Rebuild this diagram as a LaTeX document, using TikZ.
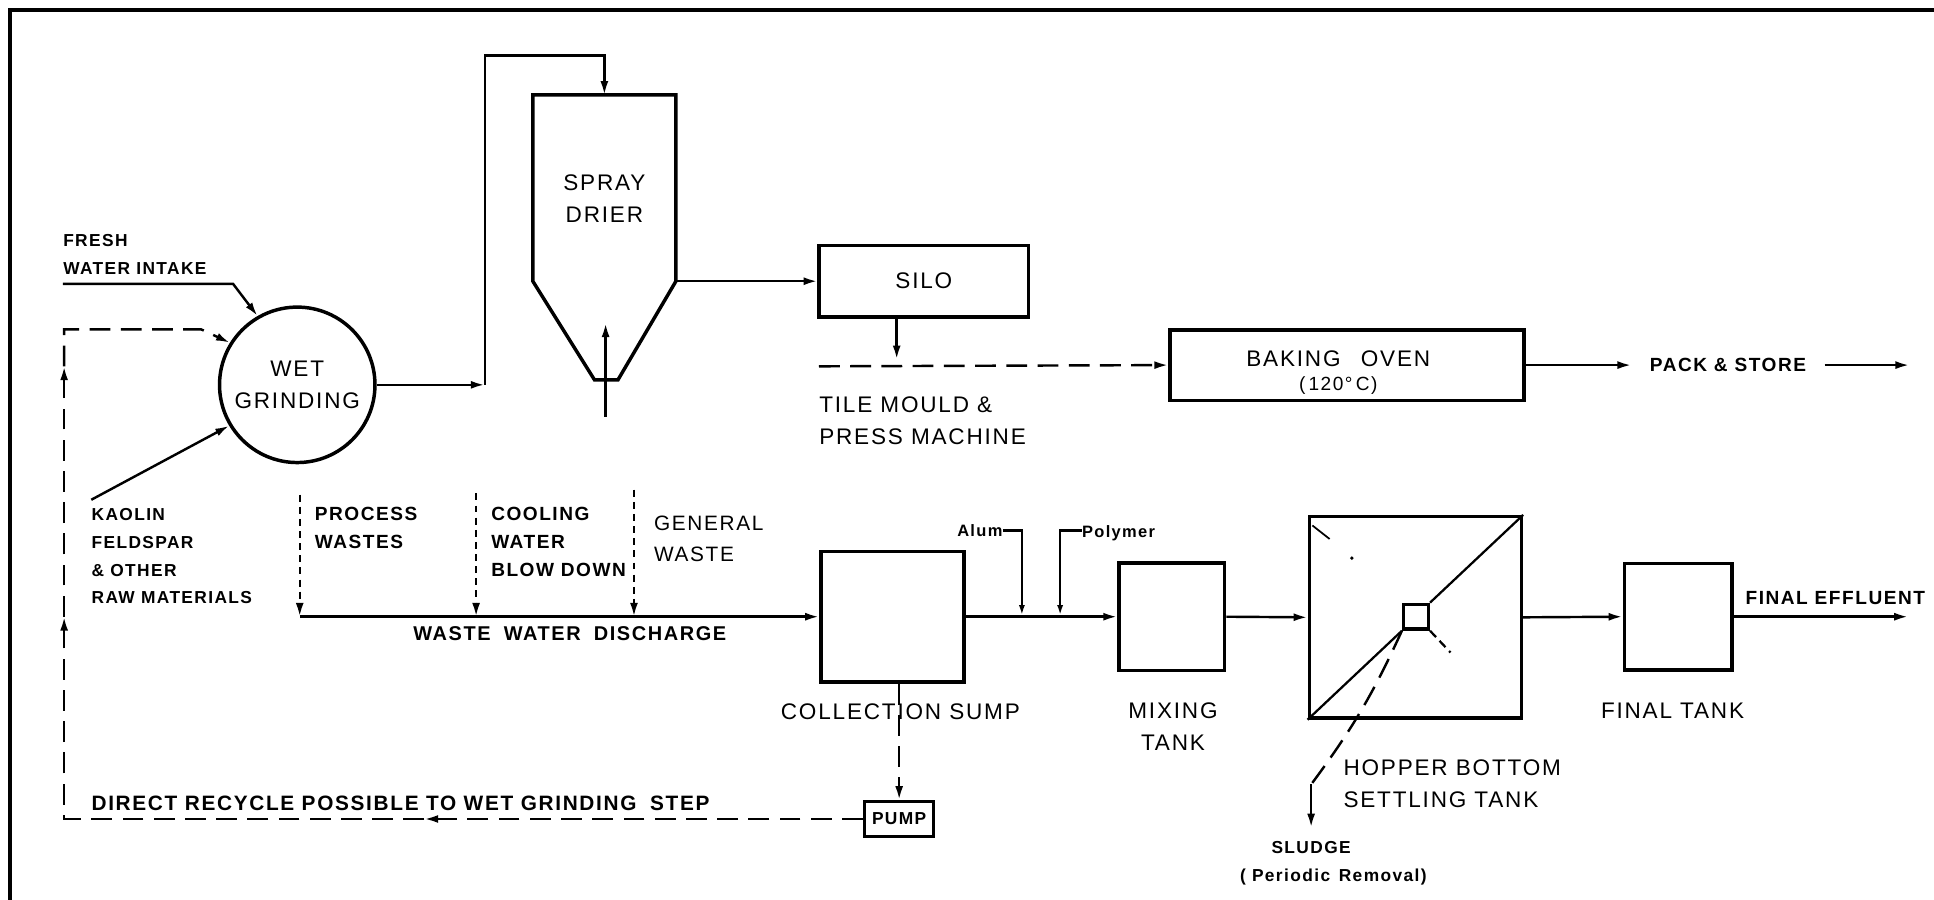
\documentclass[tikz,border=0pt]{standalone}
\usepackage{fontspec}
\setmainfont{Liberation Sans}[LetterSpace=8]
\usetikzlibrary{arrows.meta}

\tikzset{
  vessel/.style={draw,line width=2pt,inner sep=0pt},
  flow/.style={line width=1.4pt,-{Latex[length=8pt,width=4.6pt]}},
  dflow/.style={flow,dash pattern=on 12pt off 6pt},
  dline/.style={line width=1.4pt,dash pattern=on 12pt off 6pt},
  sflow/.style={flow,dash pattern=on 4pt off 3pt},
  lbl/.style={font=\fontsize{13}{18.5}\selectfont,inner sep=0pt},
  src/.style={font=\bfseries\fontsize{11}{16}\selectfont,inner sep=0pt,align=left},
  tag/.style={font=\bfseries\fontsize{10}{16}\selectfont,inner sep=0pt},
}

\begin{document}
\begin{tikzpicture}[x=0.025cm,y=-0.025cm]
  \useasboundingbox (0,0) rectangle (1568,729);
  % frame
  \draw[line width=2pt] (8,760) -- (8,8) -- (1600,8);

  % wet grinding
  \node[vessel,circle,minimum size=3.15cm,lbl,align=center] (wet) at (241,312) {WET\\GRINDING};
  \node[tag,align=left,anchor=south west] (fresh) at (51,223) {FRESH\\WATER INTAKE};
  \draw[flow] ([yshift=-0.18cm]fresh.south west) -- ++(138,0) -- (wet.120);
  \node[tag,align=left,anchor=north west] (raw) at (74,412) {KAOLIN\\FELDSPAR\\\& OTHER\\RAW MATERIALS};
  \draw[flow] ([yshift=0.17cm]raw.north west) -- (wet.211);

  % spray drier
  \coordinate (drytop) at (490,77);
  \coordinate (dryout) at (548,228);
  \draw[vessel] (432,77) -- (548,77) -- (dryout) -- (501,308) -- (482,308) -- (432,228) -- cycle;
  \node[lbl,align=center] (drier) at (490,161) {SPRAY\\DRIER};
  \coordinate (riser) at (393,312);
  \draw[flow] (wet.east) -- (riser);
  \draw[flow] (riser) -- (393,45) -| (drytop);
  \coordinate (spray) at (491,338);
  \draw[flow] (spray) -- ++(0,-76);

  % silo, press, oven
  \node[vessel,lbl,minimum width=4.24cm,minimum height=1.45cm] (silo) at (749,228) {SILO};
  \draw[flow] (dryout) -- (silo.west);
  \draw[flow] ([xshift=-0.55cm]silo.south) -- ++(0,33);
  \coordinate (press) at (664,297);
  \node[vessel,minimum width=7.17cm,minimum height=1.43cm] (oven) at (1092,296) {};
  \node[lbl,align=center] (ovenlbl) at (1085,302) {BAKING\hspace{0.9em}OVEN\\[-5pt]{\fontsize{11}{11}\selectfont(\,120°\,C)}};
  \draw[dflow] (press) -- (oven.west);
  \node[lbl,align=left,anchor=west] (mould) at (664,341) {TILE MOULD \&\\PRESS MACHINE};
  \node[tag,font=\bfseries\fontsize{11}{13}\selectfont,inner xsep=0.37cm] (pack) at (1401,296) {PACK \& STORE};
  \coordinate (packend) at (1548,296);
  \draw[flow] (oven.east) -- (pack.west);
  \draw[flow] (pack.east) -- (packend);

  % waste water
  \coordinate (proc) at (243,401);
  \coordinate (cool) at (386,400);
  \coordinate (gen) at (514,397);
  \coordinate (dis) at (243,500);
  \node[vessel,minimum width=2.9cm,minimum height=2.65cm] (sump) at (723.5,500) {};
  \draw[sflow] (proc) -- (dis);
  \draw[sflow] (cool) -- (cool |- dis);
  \draw[sflow] (gen) -- (gen |- dis);
  \draw[flow] (dis) -- (sump.west);
  \node[src,anchor=north west] (proclbl) at (255,411) {PROCESS\\WASTES};
  \node[src,anchor=north west] (coollbl) at (398,411) {COOLING\\WATER\\BLOW DOWN};
  \node[src,font=\fontsize{12}{18}\selectfont,anchor=north west] (genlbl) at (530,418) {GENERAL\\WASTE};
  \node[src,font=\bfseries\fontsize{11.5}{14}\selectfont] (dislbl) at (462,514) {WASTE\hspace{0.3em} WATER\hspace{0.3em} DISCHARGE};
  \node[lbl] (sumplbl) at (730,577) {COLLECTION SUMP};

  % recycle
  \node[vessel,tag,minimum width=1.4cm,minimum height=0.7cm] (pump) at (729,664) {PUMP};
  \draw[dflow] (pump.north |- sump.south) -- (pump.north);
  \coordinate (retmid) at (344,664);
  \coordinate (retcorner) at (52,664);
  \coordinate (retup) at (52,500);
  \coordinate (rettop) at (52,297);
  \coordinate (retbend) at (163,267);
  \draw[dflow] (pump.west) -- (retmid);
  \draw[dflow] (retmid) -- (retcorner) -- (retup);
  \draw[dflow] (retup) -- (rettop);
  \draw[dflow] (rettop) -- (52,267) -- (retbend) -- (wet.148);
  \node[tag,font=\bfseries\fontsize{12}{14}\selectfont,anchor=west] (recyc) at (74,651) {DIRECT RECYCLE POSSIBLE TO WET GRINDING\hspace{0.3em} STEP};

  % chemicals and mixing
  \node[tag,font=\bfseries\fontsize{9.5}{11}\selectfont,anchor=east] (alum) at (813,430) {Alum};
  \node[tag,font=\bfseries\fontsize{9.5}{11}\selectfont,anchor=west] (poly) at (877,432) {Polymer};
  \coordinate (alumin) at (828.5,499);
  \coordinate (polyin) at (859.5,499);
  \draw[line width=1.3pt,-{Latex[length=6pt,width=3.5pt]}] (alum.east) -| (alumin);
  \draw[line width=1.3pt,-{Latex[length=6pt,width=3.5pt]}] (poly.west |- alum.east) -| (polyin);
  \node[vessel,minimum width=2.14cm,minimum height=2.18cm] (mix) at (950,500) {};
  \node[lbl,align=center] (mixlbl) at (951,589) {MIXING\\TANK};
  \draw[flow] (sump.east) -- (mix.west);

  % settling tank
  \node[vessel,minimum width=4.3cm,minimum height=4.08cm] (hop) at (1147.5,500.5) {};
  \node[vessel,minimum size=0.5cm] (hopout) at (1148,500) {};
  \draw[line width=1.3pt] (hop.south west) -- (hopout.south west);
  \draw[line width=1.3pt] (hopout.north east) -- (hop.north east);
  \coordinate (hopedge) at (1176,529);
  \draw[line width=1.3pt,dash pattern=on 5pt off 3pt] (hopout.south east) -- (hopedge);
  \draw[line width=1pt] (1064,426) -- (1078,437);
  \fill (1096,452.5) circle (1.1pt);
  \draw[flow] (mix.east) -- (hop.west);
  \node[lbl,align=left,anchor=west] (hoplbl) at (1089,635.5) {HOPPER BOTTOM\\SETTLING TANK};
  \coordinate (slbend) at (1063,636);
  \draw[dline] (hopout.south west) to[bend left=6] (slbend);
  \node[tag,inner ysep=0.27cm] (sludge) at (1063,687) {SLUDGE};
  \draw[flow] (slbend) -- (sludge.north);
  \node[tag] (period) at (1081,711) {( Periodic\hspace{0.5em}Removal)};

  % final tank
  \node[vessel,minimum width=2.18cm,minimum height=2.16cm] (fin) at (1360.5,500) {};
  \node[lbl] (finlbl) at (1356,576) {FINAL TANK};
  \draw[flow] (hop.east) -- (fin.west);
  \coordinate (effend) at (1547,500);
  \draw[flow] (fin.east) -- (effend);
  \node[tag,font=\bfseries\fontsize{11}{13}\selectfont,anchor=west] (eff) at (1415,485) {FINAL EFFLUENT};
\end{tikzpicture}
\end{document}
